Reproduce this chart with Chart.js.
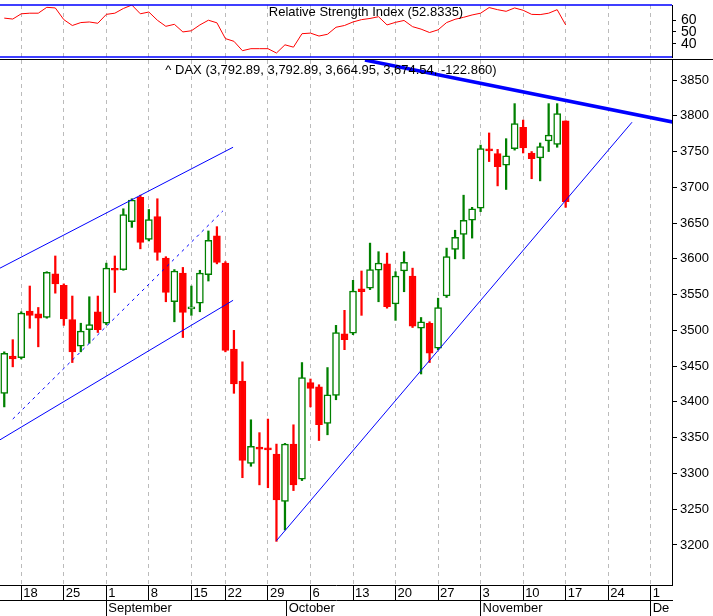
<!DOCTYPE html>
<html>
<head>
<meta charset="utf-8">
<script src="https://cdn.jsdelivr.net/npm/chart.js@4"></script>
<style>
body{margin:0;background:#fff;width:713px;height:616px;overflow:hidden;position:relative;font-family:"Liberation Sans Narrow","Liberation Sans",Arial,sans-serif}
canvas{position:absolute;left:0}
.lbl{position:absolute;font-size:13px;color:#000;white-space:nowrap;transform:translateX(-50%);line-height:13px}
.sep{position:absolute;left:0;width:713px;height:1px;background:#000}
</style>
</head>
<body>
<canvas id="rsiChart" width="713" height="60" style="top:0"></canvas>
<canvas id="priceChart" width="713" height="556" style="top:60px"></canvas>
<div class="sep" style="top:59px"></div>
<div class="lbl" style="left:366px;top:5px">Relative Strength Index (52.8335)</div>
<div class="lbl" style="left:331px;top:63px">^ DAX (3,792.89, 3,792.89, 3,664.95, 3,674.54, -122.860)</div>

<script>
// ==============================
// DAX daily candles + RSI
// ==============================

// trading day slot (0 = Aug 18)
const days = [-2,-1,0,1,2,3,4,5,6,7,8,9,10,11,12,13,14,15,16,17,18,19,20,21,22,23,24,25,26,27,28,29,30,31,32,33,34,35,36,37,38,39,40,41,42,43,44,45,46,47,48,49,50,51,52,53,54,55,56,57,58,59,60,61,62,63,64]

const opens  = [3412,3464,3462,3527,3523,3518,3579,3563,3515,3478,3501,3526,3510,3586,3585,3652,3686,3627,3659,3601,3540,3580,3530,3538,3578,3632,3594,3474,3429,3314,3336,3335,3327,3261,3341,3292,3427,3421,3370,3409,3495,3496,3558,3559,3584,3593,3537,3583,3576,3503,3510,3475,3548,3613,3634,3654,3671,3753,3747,3731,3754,3784,3748,3741,3765,3760,3793]
const highs  = [3470,3487,3526,3562,3532,3582,3604,3565,3548,3510,3547,3548,3594,3604,3670,3684,3689,3669,3684,3603,3585,3588,3562,3584,3639,3645,3596,3500,3456,3375,3357,3376,3341,3342,3368,3455,3432,3424,3448,3507,3528,3570,3583,3622,3610,3608,3582,3610,3587,3518,3512,3545,3615,3640,3689,3672,3759,3776,3753,3768,3817,3794,3750,3762,3817,3817,3793]
const lows   = [3393,3449,3460,3503,3477,3517,3552,3507,3455,3470,3482,3497,3508,3553,3584,3644,3614,3625,3598,3540,3512,3490,3521,3526,3569,3593,3470,3412,3294,3310,3284,3280,3205,3221,3276,3290,3393,3346,3354,3403,3473,3494,3521,3557,3540,3531,3514,3554,3504,3439,3455,3473,3546,3600,3600,3629,3666,3736,3702,3697,3752,3748,3712,3709,3750,3756,3672]
const closes = [3468,3460,3524,3521,3517,3581,3565,3516,3470,3499,3508,3501,3587,3584,3662,3682,3623,3655,3609,3553,3583,3525,3533,3580,3626,3595,3472,3425,3318,3338,3334,3333,3263,3341,3284,3434,3419,3368,3410,3497,3487,3555,3554,3585,3594,3533,3576,3595,3506,3512,3468,3532,3603,3630,3654,3670,3754,3751,3729,3744,3789,3755,3740,3757,3773,3803,3680]

const rsi = [61.8,61,65.5,66,66,71,70.5,60.5,55.5,58,58.5,57.4,65,66,70,73,65.5,67,60,54.8,56.5,50,51,56,60,57.8,44.3,42,34,35.7,35.7,35.7,32,39,37,48.5,49,46.5,48,54,55.5,58.5,60.5,61.5,63,56,58.2,59.8,54.5,52.4,49.5,51.8,58,60.8,62.5,64.5,66,70.8,69,67.6,70.5,68.5,65,64.8,66,69,56]

// weekly grid (slot, label)
const weekSlots  = [0,5,10,15,20,24,29,34,39,44,49,54,59,64,69,74]
const weekLabels = ["18","25","1","8","15","22","29","6","13","20","27","3","10","17","24","1"]
const monthSlots  = [10,31.2,54,74]
const monthLabels = ["September","October","November","De"]

const priceTicks = [3200,3250,3300,3350,3400,3450,3500,3550,3600,3650,3700,3750,3800,3850]
const rsiTicks = [40,50,60]

// trend lines [slot, price]
const upperChannel = [[-2.5,3587],[24.9,3756]]
const lowerChannel = [[-2.5,3347],[24.9,3542]]
const midChannel   = [[-1,3376],[23.7,3667]]
const downTrend    = [[40.4,3878],[81.3,3780]]
const upTrend      = [[30.0,3206],[71.8,3791]]

const X_MIN = -2.5
const X_MAX = 76.5
const FONT = {family:"'Liberation Sans Narrow','Liberation Sans',Arial",size:13}

Chart.defaults.font = FONT
Chart.defaults.color = "#000"

// fixed axis sizes, no label overflow padding
function fixWidth(w){ return s=>{ s.width=w; s.paddingTop=0; s.paddingBottom=0 } }
function fixHeight(h){ return s=>{ s.height=h; s.paddingLeft=0; s.paddingRight=0 } }

function toPts(arr){ return arr.map(p=>({x:p[0],y:p[1]})) }

// RSI panel
new Chart(document.getElementById("rsiChart"),{
type:"line",
data:{
datasets:[{
data:days.map((d,i)=>({x:d,y:rsi[i]})),
borderColor:"#ff0000",borderWidth:1,pointRadius:0,tension:0
}]
},
options:{
responsive:false,animation:false,devicePixelRatio:1,
layout:{padding:{top:5,bottom:3,left:0,right:0}},
plugins:{legend:{display:false},tooltip:{enabled:false}},
scales:{
x:{
type:"linear",min:X_MIN,max:X_MAX,
afterBuildTicks:s=>{ s.ticks=weekSlots.map(v=>({value:v})) },
grid:{color:"#bbb",drawTicks:false},
border:{display:false,dash:[4,4]},
ticks:{display:false},
afterFit:fixHeight(0)
},
y:{
position:"right",min:28.6,max:73,
afterFit:fixWidth(41),
afterBuildTicks:s=>{ s.ticks=rsiTicks.map(v=>({value:v})) },
grid:{drawOnChartArea:false,tickLength:4,tickColor:"#000"},
border:{color:"#000"},
ticks:{padding:5,font:{...FONT,size:14}}
}
}
},
plugins:[{
id:"rsiFrame",
afterDraw(c){
const a=c.chartArea,ctx=c.ctx
ctx.save()
ctx.strokeStyle="#0000ff"
ctx.lineWidth=1.5
ctx.beginPath()
ctx.moveTo(0,a.top);ctx.lineTo(a.right,a.top)
ctx.moveTo(0,a.bottom);ctx.lineTo(a.right,a.bottom)
ctx.stroke()
ctx.restore()
}
}]
})

// Price panel
const upColor="#008000"
const dnColor="#ff0000"
const isUp=closes.map((c,i)=>c>=opens[i])

new Chart(document.getElementById("priceChart"),{
type:"bar",
data:{
datasets:[
{type:"line",data:toPts(upperChannel),borderColor:"#0000ff",borderWidth:1,pointRadius:0,order:0},
{type:"line",data:toPts(lowerChannel),borderColor:"#0000ff",borderWidth:1,pointRadius:0,order:0},
{type:"line",data:toPts(midChannel),borderColor:"#0000ff",borderWidth:1,borderDash:[3,4],pointRadius:0,order:0},
{type:"line",data:toPts(upTrend),borderColor:"#0000ff",borderWidth:1,pointRadius:0,order:0},
{type:"line",data:toPts(downTrend),borderColor:"#0000ff",borderWidth:3.5,pointRadius:0,order:0},
{
// wicks
data:days.map((d,i)=>({x:d,y:[lows[i],highs[i]]})),
backgroundColor:isUp.map(u=>u?upColor:dnColor),
barThickness:1.6,grouped:false,order:3
},
{
// bodies
data:days.map((d,i)=>({x:d,y:[opens[i],closes[i]]})),
backgroundColor:isUp.map(u=>u?"#ffffff":dnColor),
borderColor:isUp.map(u=>u?upColor:dnColor),
borderWidth:1.5,borderSkipped:false,minBarLength:2,
barThickness:7,grouped:false,order:2
}
]
},
options:{
responsive:false,animation:false,devicePixelRatio:1,
layout:{padding:0},
plugins:{legend:{display:false},tooltip:{enabled:false}},
scales:{
x:{
type:"linear",min:X_MIN,max:X_MAX,offset:false,
afterBuildTicks:s=>{ s.ticks=weekSlots.map(v=>({value:v})) },
grid:{offset:false,color:"#bbb",drawTicks:true,tickLength:15,tickColor:"#000",tickBorderDash:[]},
border:{display:true,color:"#000",dash:[4,4]},
ticks:{display:true,align:"start",padding:-14,labelOffset:2,autoSkip:false,maxRotation:0,
callback:v=>weekLabels[weekSlots.indexOf(v)]},
afterFit:fixHeight(15)
},
x2:{
type:"linear",position:"bottom",min:X_MIN,max:X_MAX,offset:false,
afterBuildTicks:s=>{ s.ticks=monthSlots.map(v=>({value:v})) },
grid:{offset:false,drawOnChartArea:false,drawTicks:true,tickLength:16,tickColor:"#000"},
border:{display:true,color:"#000"},
ticks:{align:"start",padding:-15,labelOffset:2,autoSkip:false,maxRotation:0,
callback:v=>monthLabels[monthSlots.indexOf(v)]},
afterFit:fixHeight(16)
},
y:{
position:"right",min:3144,max:3878,
afterFit:fixWidth(41),
afterBuildTicks:s=>{ s.ticks=priceTicks.map(v=>({value:v})) },
grid:{drawOnChartArea:false,tickLength:5,tickColor:"#000"},
border:{color:"#000"},
ticks:{padding:3,callback:v=>String(v)}
}
}
}
})
</script>
</body>
</html>
